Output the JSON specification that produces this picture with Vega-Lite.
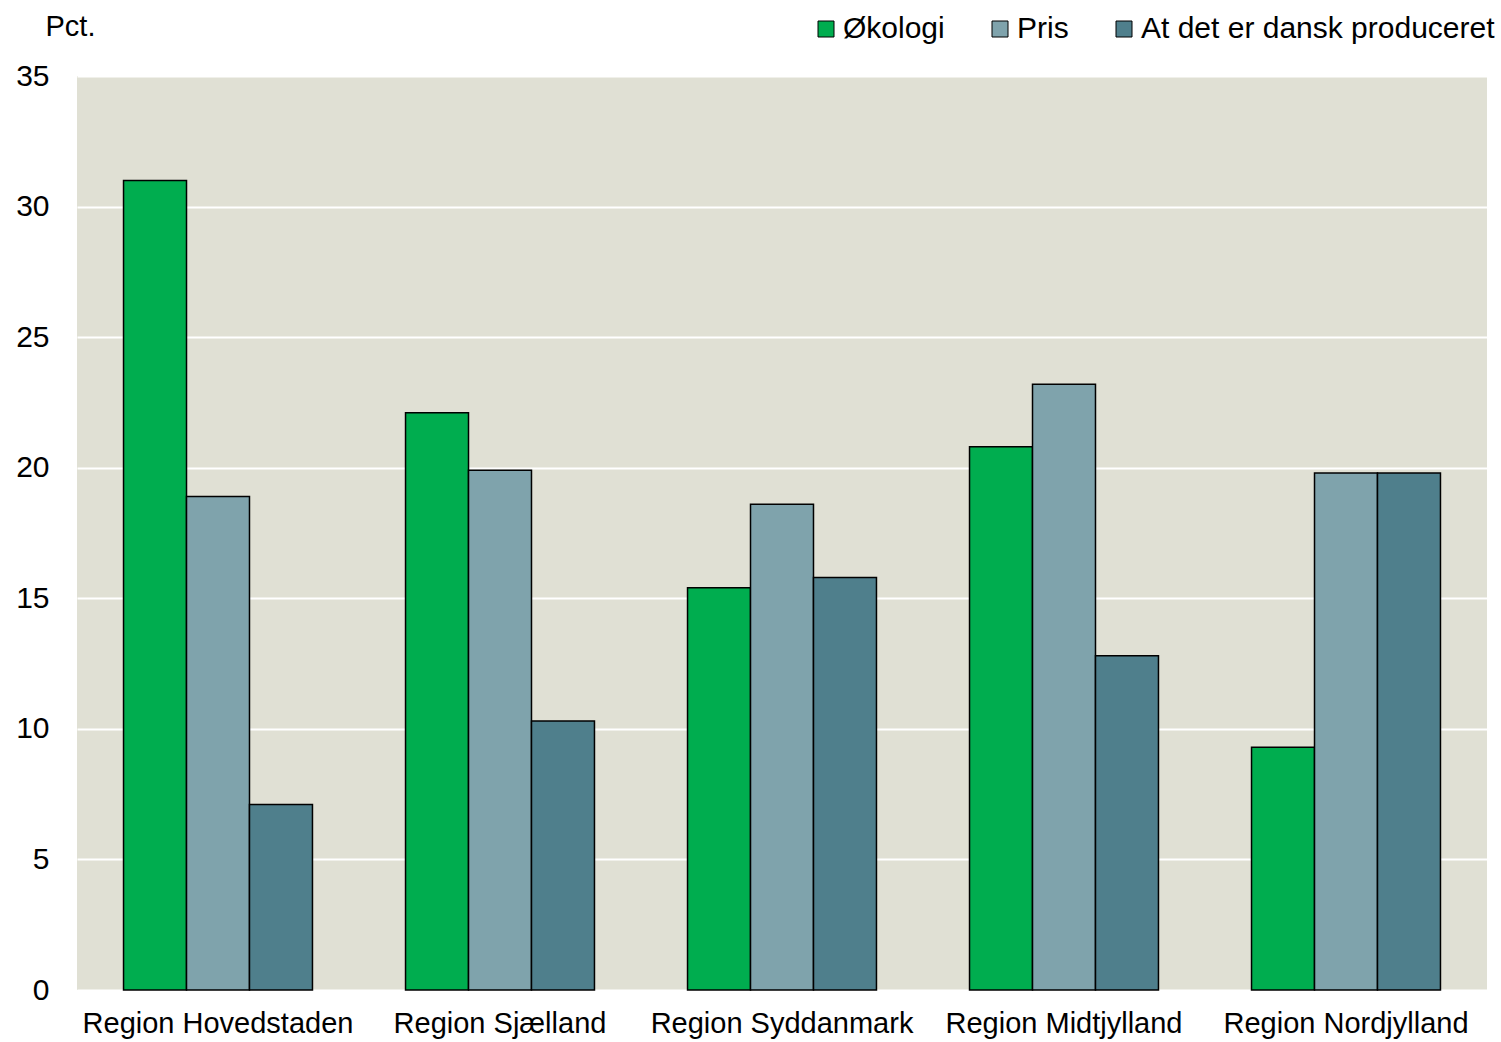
{
  "$schema": "https://vega.github.io/schema/vega-lite/v6.json",
  "width": 1410,
  "height": 914,
  "autosize": {"type": "none"},
  "padding": {"left": 77, "top": 76, "right": 14, "bottom": 52},
  "background": "white",
  "config": {
    "font": "Liberation Sans",
    "view": {"fill": "#E0E0D4", "stroke": null}
  },
  "data": {
    "values": [
      {"region": "Region Hovedstaden", "serie": "Økologi", "pct": 31.0},
      {"region": "Region Hovedstaden", "serie": "Pris", "pct": 18.9},
      {"region": "Region Hovedstaden", "serie": "At det er dansk produceret", "pct": 7.1},
      {"region": "Region Sjælland", "serie": "Økologi", "pct": 22.1},
      {"region": "Region Sjælland", "serie": "Pris", "pct": 19.9},
      {"region": "Region Sjælland", "serie": "At det er dansk produceret", "pct": 10.3},
      {"region": "Region Syddanmark", "serie": "Økologi", "pct": 15.4},
      {"region": "Region Syddanmark", "serie": "Pris", "pct": 18.6},
      {"region": "Region Syddanmark", "serie": "At det er dansk produceret", "pct": 15.8},
      {"region": "Region Midtjylland", "serie": "Økologi", "pct": 20.8},
      {"region": "Region Midtjylland", "serie": "Pris", "pct": 23.2},
      {"region": "Region Midtjylland", "serie": "At det er dansk produceret", "pct": 12.8},
      {"region": "Region Nordjylland", "serie": "Økologi", "pct": 9.3},
      {"region": "Region Nordjylland", "serie": "Pris", "pct": 19.8},
      {"region": "Region Nordjylland", "serie": "At det er dansk produceret", "pct": 19.8}
    ]
  },
  "mark": {"type": "bar", "stroke": "black", "strokeWidth": 1.5},
  "encoding": {
    "x": {
      "field": "region",
      "type": "nominal",
      "sort": ["Region Hovedstaden", "Region Sjælland", "Region Syddanmark", "Region Midtjylland", "Region Nordjylland"],
      "scale": {"paddingInner": 0.33, "paddingOuter": 0.165},
      "axis": {
        "title": null,
        "labelAngle": 0,
        "ticks": false,
        "domain": false,
        "labelFontSize": 29,
        "labelColor": "black",
        "labelPadding": 19,
        "labelLimit": 400
      }
    },
    "xOffset": {
      "field": "serie",
      "type": "nominal",
      "sort": ["Økologi", "Pris", "At det er dansk produceret"],
      "scale": {"paddingInner": 0, "paddingOuter": 0}
    },
    "y": {
      "field": "pct",
      "type": "quantitative",
      "scale": {"domain": [0, 35], "nice": false},
      "axis": {
        "values": [0, 5, 10, 15, 20, 25, 30, 35],
        "title": "Pct.",
        "titleAngle": 0,
        "titleAlign": "left",
        "titleBaseline": "alphabetic",
        "titleX": -32,
        "titleY": -41,
        "titleFontSize": 29,
        "titleFontWeight": "normal",
        "titleColor": "black",
        "ticks": false,
        "domain": false,
        "labelFontSize": 30,
        "labelColor": "black",
        "labelPadding": 28,
        "grid": true,
        "gridColor": "white",
        "gridWidth": 2
      }
    },
    "color": {
      "field": "serie",
      "type": "nominal",
      "sort": ["Økologi", "Pris", "At det er dansk produceret"],
      "scale": {
        "domain": ["Økologi", "Pris", "At det er dansk produceret"],
        "range": ["#00AD4F", "#7FA3AC", "#4F7F8C"]
      },
      "legend": {
        "title": null,
        "orient": "none",
        "direction": "horizontal",
        "legendX": 734,
        "legendY": -62,
        "padding": 0,
        "symbolType": "square",
        "symbolSize": 256,
        "symbolStrokeColor": "black",
        "symbolStrokeWidth": 1,
        "labelFontSize": 30,
        "labelColor": "black",
        "labelOffset": 2,
        "columnPadding": 40,
        "labelLimit": 600
      }
    }
  }
}
